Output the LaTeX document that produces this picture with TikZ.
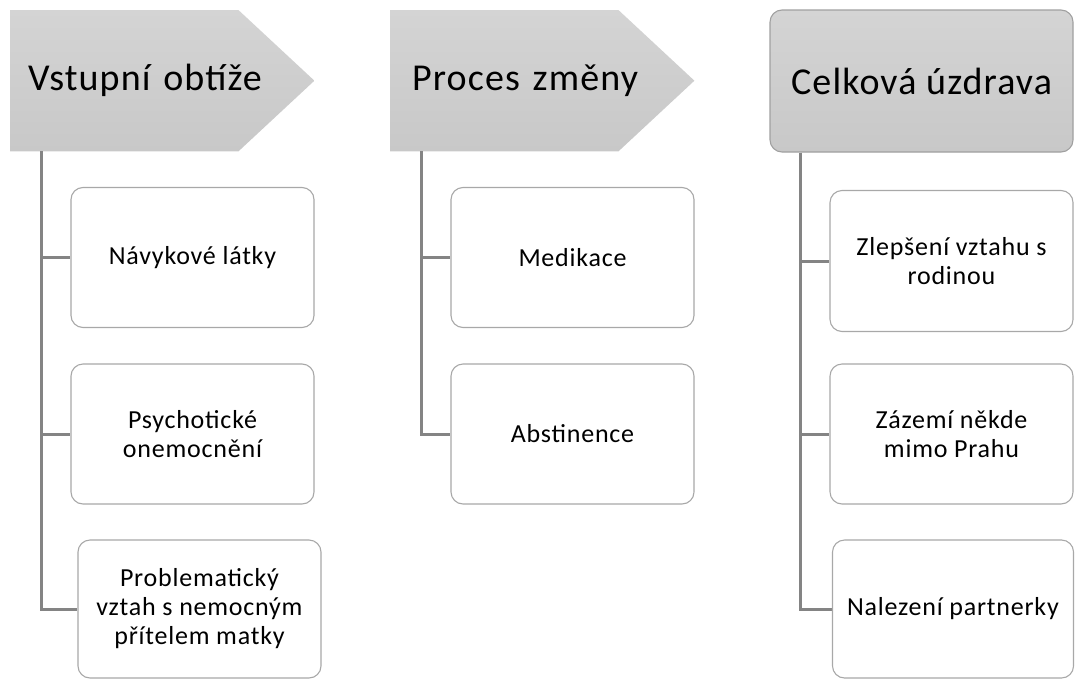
\documentclass[tikz,border=0pt]{standalone}
\usepackage{fontspec}
\setmainfont{Carlito}
\newfontfamily\hdfont{Carlito}[LetterSpace=3]
\newfontfamily\bxfont{Carlito}[LetterSpace=3]
\usetikzlibrary{backgrounds}
\definecolor{hdtop}{HTML}{D4D4D4}
\definecolor{hdbot}{HTML}{C8C8C8}
\definecolor{hdborder}{HTML}{A0A0A0}
\definecolor{boxgray}{HTML}{A8A8A8}
\definecolor{conngray}{HTML}{848484}
\tikzset{
  hdr/.style={font=\hdfont\fontsize{38}{44}\selectfont, text=black, minimum height=141pt, inner ysep=0pt},
  pent/.style={hdr, minimum width=304pt, text width=268pt, inner xsep=18pt, align=left, anchor=north west},
  item/.style={draw=boxgray, line width=1.1pt, rounded corners=12pt, fill=white,
    minimum width=243pt, minimum height=140pt, align=center, inner sep=0pt,
    font=\bxfont\fontsize{26}{29}\selectfont, text=black},
  conn/.style={draw=conngray, line width=3pt}
}
\begin{document}
\begin{tikzpicture}[x=1pt,y=-1pt]
\useasboundingbox (0,0) rectangle (1075,680);
% headers
\node[pent] (h1) at (10,10) {\raisebox{-2pt}{Vstupní obtíže}};
\node[pent, text width=260pt, inner xsep=22pt] (h2) at (390,10) {\raisebox{-2pt}{Proces změny}};
\node[hdr, draw=hdborder, line width=1.1pt, rounded corners=12pt, top color=hdtop, bottom color=hdbot,
      minimum width=303pt, minimum height=142pt, align=center] (h3) at (921.5,81) {\raisebox{-3pt}{Celková úzdrava}};
\begin{scope}[on background layer]
  \shade[top color=hdtop, bottom color=hdbot] (h1.north west) -- ([xshift=-76pt]h1.north east) -- (h1.east) -- ([xshift=-76pt]h1.south east) -- (h1.south west) -- cycle;
  \shade[top color=hdtop, bottom color=hdbot] (h2.north west) -- ([xshift=-76pt]h2.north east) -- (h2.east) -- ([xshift=-76pt]h2.south east) -- (h2.south west) -- cycle;
\end{scope}
% column 1
\node[item] (a1) at (192.5,257.5) {Návykové látky};
\node[item] (a2) at (192.5,434) {Psychotické\\onemocnění};
\node[item, minimum height=138pt] (a3) at (199.5,609) {Problematický\\vztah s nemocným\\přítelem matky};
% column 2
\node[item] (b1) at (572.5,257.5) {Medikace};
\node[item] (b2) at (572.5,434) {Abstinence};
% column 3
\node[item, minimum height=141pt] (c1) at (951.5,261) {Zlepšení vztahu s\\rodinou};
\node[item] (c2) at (951.5,434) {Zázemí někde\\mimo Prahu};
\node[item, minimum height=138pt, minimum width=241pt] (c3) at (953,609) {Nalezení partnerky};
% connectors
\begin{scope}[on background layer]
  \foreach \b in {a1,a2,a3} \draw[conn] ([xshift=31pt]h1.south west) |- (\b.west);
  \foreach \b in {b1,b2} \draw[conn] ([xshift=31pt]h2.south west) |- (\b.west);
  \foreach \b in {c1,c2,c3} \draw[conn] ([xshift=31pt]h3.south west) |- (\b.west);
\end{scope}
\end{tikzpicture}
\end{document}
